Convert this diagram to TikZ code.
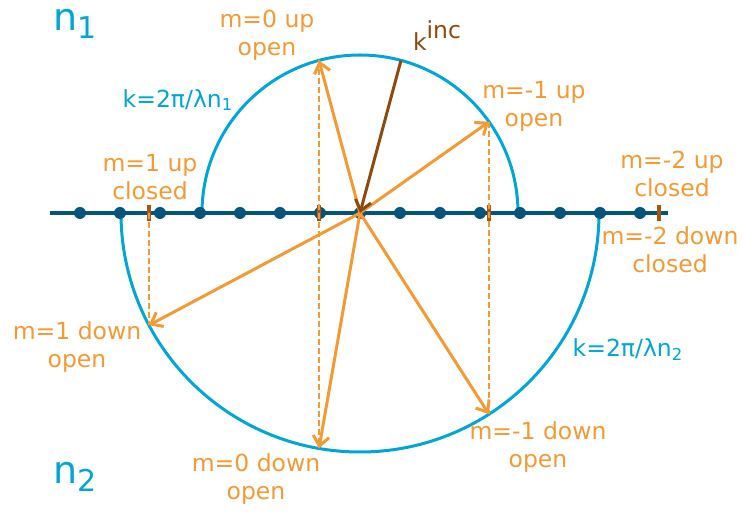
\documentclass[tikz,border=0pt]{standalone}
\usepackage{fontspec}
\setmainfont{DejaVu Sans}
\usepackage{tikz}
\usetikzlibrary{arrows.meta,positioning,calc}
\definecolor{OrdOrange}{HTML}{F39A34}
\definecolor{RimCyan}{HTML}{00A6D6}
\definecolor{AxisBlue}{HTML}{07547A}
\definecolor{IncBrown}{HTML}{8E4A0C}
\definecolor{TickBrown}{HTML}{A9550F}

\begin{document}
\begin{tikzpicture}[
    x=0.5pt,y=0.5pt,
    lbl/.style={align=center,inner sep=0pt,font=\fontsize{11.75}{14}\selectfont,text=OrdOrange},
    klbl/.style={inner sep=0pt,font=\fontsize{11.75}{14}\selectfont,text=RimCyan},
    medium/.style={inner sep=0pt,font=\fontsize{19}{22}\selectfont,text=RimCyan},
    ordarrow/.style={-{Straight Barb[length=5pt,width=8pt]},line width=1.5pt,color=OrdOrange},
    incarrow/.style={-{Straight Barb[length=5pt,width=8pt]},line width=1.5pt,color=IncBrown},
    proj/.style={OrdOrange,line width=0.85pt,dash pattern=on 3pt off 1.5pt},
    rim/.style={RimCyan,line width=1.5pt},
    gtick/.style={TickBrown,line width=1.75pt},
    dotnode/.style={circle,fill=AxisBlue,inner sep=0pt,minimum size=6pt}
  ]
    \useasboundingbox (-360,-300) rectangle (384,213);
    % half circles of the two media
    \draw[rim] (158,0) arc[start angle=0,end angle=180,radius=158];
    \draw[rim] (-239,0) arc[start angle=180,end angle=360,radius=239];
    % interface with the grating orders
    \draw[AxisBlue,line width=2pt] (-310,0) -- (308,0);
    \foreach \x in {-280,-240,...,280}
      \node[dotnode] (dot\x) at (\x,0) {};
    \foreach \x in {-211,-41,129,299}
      \draw[gtick] (\x,-8) -- (\x,8);
    % ends of the wave vectors
    \coordinate (kin) at (41,152.6);
    \coordinate (up0) at (-41,152.6);
    \coordinate (upm1) at (129,91.2);
    \coordinate (dnp1) at (-211,-112.2);
    \coordinate (dn0) at (-41,-235.5);
    \coordinate (dnm1) at (129,-201.2);
    \coordinate (cut1) at (-211,0);
    \draw[proj] (up0) -- (dn0);
    \draw[proj] (upm1) -- (dnm1);
    \draw[proj] (cut1) -- (dnp1);
    \draw[ordarrow] (dot0.center) -- (up0);
    \draw[ordarrow] (dot0.center) -- (upm1);
    \draw[ordarrow] (dot0.center) -- (dnp1);
    \draw[ordarrow] (dot0.center) -- (dn0);
    \draw[ordarrow] (dot0.center) -- (dnm1);
    \draw[incarrow] (kin) -- (dot0.center);
    % labels
    \node[medium] (none) at (-285,189) {n\raisebox{-4pt}{\fontsize{15}{18}\selectfont 1}};
    \node[medium] (ntwo) at (-285,-264) {n\raisebox{-4pt}{\fontsize{15}{18}\selectfont 2}};
    \node[klbl] (kone) at (-182,113) {k=2π/λn\textsubscript{1}};
    \node[klbl] (ktwo) at (268,-137) {k=2π/λn\textsubscript{2}};
    \node[lbl,text=IncBrown] (lkin) at (77,177) {k\raisebox{6pt}{inc}};
    \node[lbl] (lup0) at (-93,178) {m=0 up\\open};
    \node[lbl] (lupm1) at (174,107) {m=-1 up\\open};
    \node[lbl] (lupp1) at (-210,36) {m=1 up\\closed};
    \node[lbl] (lupm2) at (312,39) {m=-2 up\\closed};
    \node[lbl] (ldnm2) at (310,-37) {m=-2 down\\closed};
    \node[lbl] (ldnp1) at (-283,-134) {m=1 down\\open};
    \node[lbl] (ldnm1) at (178,-234) {m=-1 down\\open};
    \node[lbl] (ldn0) at (-104,-266) {m=0 down\\open};
  \end{tikzpicture}
\end{document}
